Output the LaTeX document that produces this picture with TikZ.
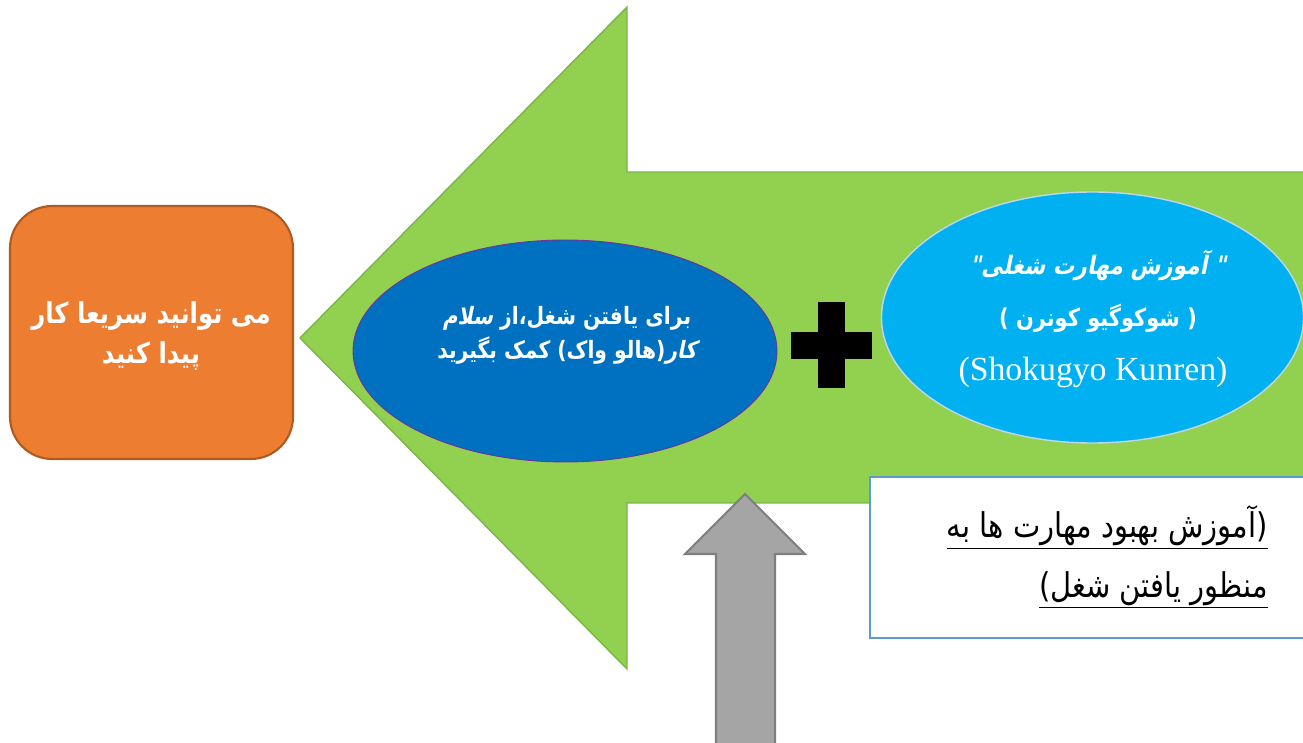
\documentclass[tikz,border=0pt]{standalone}
\usepackage{fontspec}
\setmainfont{Liberation Serif}
\TeXXeTstate=1
\newfontfamily\arabicfont[Script=Arabic,FakeStretch=0.85]{DejaVu Sans}
\newfontfamily\arabicsl[Script=Arabic,FakeStretch=0.85,FakeSlant=0.2]{DejaVu Sans}
\usetikzlibrary{shapes.geometric}
\definecolor{orangefill}{HTML}{ED7D31}
\definecolor{orangeline}{HTML}{AE5A21}
\definecolor{bluefill}{HTML}{0070C0}
\definecolor{blueline}{HTML}{7030A0}
\definecolor{cyanfill}{HTML}{00B0F0}
\definecolor{cyanline}{HTML}{BDD7EE}
\definecolor{greenfill}{HTML}{92D050}
\definecolor{greenline}{HTML}{7AB648}
\definecolor{grayfill}{HTML}{A5A5A5}
\definecolor{grayline}{HTML}{7F7F7F}
\definecolor{boxline}{HTML}{5B9BD5}
\tikzset{
  orangebox/.style={draw=orangeline, line width=1.2pt, fill=orangefill, rounded corners=24pt,
    minimum width=283*0.02cm, minimum height=253*0.02cm, inner sep=0pt},
  blueell/.style={ellipse, draw=blueline, line width=0.5pt, fill=bluefill,
    minimum width=424*0.02cm, minimum height=222*0.02cm, inner sep=0pt},
  cyanell/.style={ellipse, draw=cyanline, line width=0.8pt, fill=cyanfill,
    minimum width=422*0.02cm, minimum height=251*0.02cm, inner sep=0pt},
  plain/.style={inner sep=0pt, align=center},
}
\begin{document}
\begin{tikzpicture}[x=0.02cm, y=-0.02cm]
\useasboundingbox (0,0) rectangle (1303,743);
\clip (0,0) rectangle (1303,743);
\fill[white] (0,0) rectangle (1303,743);
% green arrow
\draw[greenline, line width=0.8pt, fill=greenfill]
  (300,338) -- (627,7) -- (627,172) -- (1320,172) -- (1320,503) -- (627,503) -- (627,669) -- cycle;
% orange box
\node[orangebox] (orange) at (151.5,332.5) {};
\node[plain, text=white, font={\fontsize{16.3pt}{22.7pt}\selectfont\arabicfont\bfseries}] (orangetxt) at (151,336)
  {\beginR می توانید سریعا کار\endR\\ \beginR پیدا کنید\endR};
% blue ellipse
\node[blueell] (blue) at (565,351) {};
\node[plain, text=white, font={\fontsize{13.6pt}{19.3pt}\selectfont\arabicfont\bfseries}] (bluetxt) at (567,335)
  {\beginR برای یافتن شغل،از {\arabicsl\bfseries سلام}\endR\\ \beginR {\arabicsl\bfseries کار}(هالو واک) کمک بگیرید\endR};
% plus sign
\fill[black] (818,302) rectangle (845,388);
\fill[black] (791,332) rectangle (872,359);
\node[plain] (plus) at (831.5,345) {};
% cyan ellipse
\node[cyanell] (cyan) at (1092.5,317.5) {};
\node[plain, text=white, font={\fontsize{14.5pt}{18pt}\selectfont\arabicsl\bfseries}] (cyantxt1) at (1098,265)
  {\beginR" آموزش مهارت شغلی"\endR};
\node[plain, text=white, font={\fontsize{14pt}{18pt}\selectfont\arabicfont\bfseries}] (cyantxt2) at (1098,318)
  {\beginR( شوکوگیو کونرن )\endR};
\node[plain, text=white, font={\fontsize{19.2pt}{23pt}\selectfont}] (cyantxt3) at (1093,372) {(Shokugyo Kunren)};
% gray arrow
\draw[grayline, line width=1.2pt, fill=grayfill]
  (745,494) -- (805,554) -- (775,554) -- (775,760) -- (716,760) -- (716,554) -- (685,554) -- cycle;
\coordinate (graytip) at (745,494);
% white box
\node[draw=boxline, line width=1.2pt, fill=white, minimum width=450*0.02cm, minimum height=161*0.02cm,
  anchor=north west, inner sep=0pt] (wbox) at (869,476) {};
\node[plain, anchor=east, text=black, font={\fontsize{19.4pt}{24pt}\selectfont\arabicfont}] (wtxt1) at (1268,527)
  {\underline{\beginR(آموزش بهبود مهارت ها به\endR}};
\node[plain, anchor=east, text=black, font={\fontsize{19.4pt}{24pt}\selectfont\arabicfont}] (wtxt2) at (1268,590)
  {\underline{\beginR منظور یافتن شغل)\endR}};
\end{tikzpicture}
\end{document}
